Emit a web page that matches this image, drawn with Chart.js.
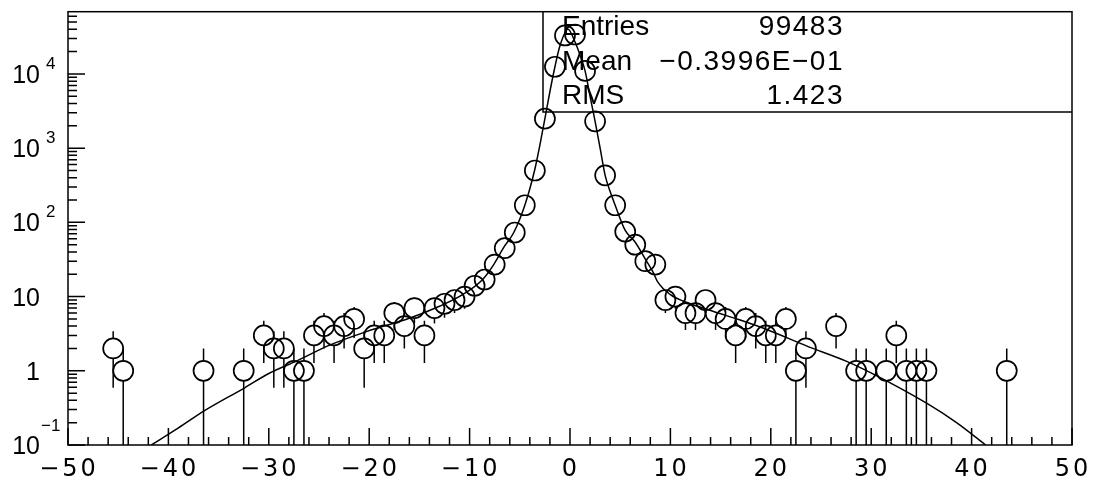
<!DOCTYPE html>
<html>
<head>
<meta charset="utf-8">
<script src="https://cdn.jsdelivr.net/npm/chart.js@4"></script>
<style>
  html, body { margin: 0; padding: 0; background: #fff; }
  #wrap { width: 1095px; height: 481px; }
</style>
</head>
<body>
<div id="wrap"><canvas id="myChart"></canvas></div>
<script>
// histogram bins (centre of each bin) and their contents
const binCenters = [-45.5, -44.5, -36.5, -32.5, -30.5, -29.5, -28.5, -27.5, -26.5, -25.5,
  -24.5, -23.5, -22.5, -21.5, -20.5, -19.5, -18.5, -17.5, -16.5, -15.5,
  -14.5, -13.5, -12.5, -11.5, -10.5, -9.5, -8.5, -7.5, -6.5, -5.5,
  -4.5, -3.5, -2.5, -1.5, -0.5, 0.5, 1.5, 2.5, 3.5, 4.5,
  5.5, 6.5, 7.5, 8.5, 9.5, 10.5, 11.5, 12.5, 13.5, 14.5,
  15.5, 16.5, 17.5, 18.5, 19.5, 20.5, 21.5, 22.5, 23.5, 26.5,
  28.5, 29.5, 31.5, 32.5, 33.5, 34.5, 35.5, 43.5];
const counts = [2, 1, 1, 1, 3, 2, 2, 1, 1, 3,
  4, 3, 4, 5, 2, 3, 3, 6, 4, 7,
  3, 7, 8, 9, 10, 14, 17, 27, 45, 73,
  170, 500, 2500, 12500, 33000, 34000, 11000, 2300, 430, 170,
  75, 50, 30, 27, 9, 10, 6, 6, 9, 6,
  5, 3, 5, 4, 3, 3, 5, 1, 2, 4,
  1, 1, 1, 3, 1, 1, 1, 1];
const countErrors = [1.41, 1, 1, 1, 1.73, 1.41, 1.41, 1, 1, 1.73,
  2, 1.73, 2, 2.24, 1.41, 1.73, 1.73, 2.45, 2, 2.65,
  1.73, 2.65, 2.83, 3, 3.16, 3.74, 4.12, 5.2, 6.7, 8.5,
  13, 22, 50, 112, 182, 184, 105, 48, 21, 13,
  8.7, 7.1, 5.5, 5.2, 3, 3.16, 2.45, 2.45, 3, 2.45,
  2.24, 1.73, 2.24, 2, 1.73, 1.73, 2.24, 1, 1.41, 2,
  1, 1, 1, 1.73, 1, 1, 1, 1];

// fitted curve
const fitX = [-41.7, -39, -36.4, -32.4, -30, -27.2, -24, -20.2, -16, -13,
  -10.7, -8.7, -7.6, -6.6, -5.6, -4.5, -3.5, -3.0, -2.5, -2.0,
  -1.5, -1.0, -0.2, 0.5, 1.0, 1.5, 2.0, 2.5, 3.0, 3.5,
  4.0, 4.5, 5.5, 6.5, 7.5, 8.3, 8.7, 10, 12, 14.3,
  16.8, 19.6, 23.6, 27.5, 30.9, 35.6, 38.5, 41.4];
const fitY = [0.1, 0.17, 0.29, 0.59, 0.92, 1.36, 2.2, 3.4, 5.1, 7.4,
  10.6, 17, 27, 46, 73, 170, 520, 1100, 2500, 5800,
  12500, 24000, 40000, 27000, 18000, 11000, 5000, 2300, 1000, 430,
  260, 170, 78, 54, 32, 21, 16, 10.6, 8, 6.3,
  4.9, 3.6, 2.15, 1.35, 0.81, 0.36, 0.2, 0.1];

// axis labels
const xTickLabels = [-50, -40, -30, -20, -10, 0, 10, 20, 30, 40, 50];
const yTickValues = [0.1, 1, 10, 100, 1000, 10000];
const yTickBase = ['10', '1', '10', '10', '10', '10'];
const yTickSup = ['\u22121', '', '', '2', '3', '4'];

// statistics box
const statNames = ['Entries', 'Mean', 'RMS'];
const statValues = ['99483', '\u22120.3996E\u221201', '1.423'];

const R = 10; // marker radius
const XFONT = '"DejaVu Sans", sans-serif';
const LFONT = '"Liberation Sans", Arial, sans-serif';

const paw = {
  id: 'paw',
  afterDatasetsDraw(chart) {
    const { ctx, chartArea: a, scales: { x, y } } = chart;
    ctx.save();
    ctx.strokeStyle = '#000';
    ctx.fillStyle = '#000';
    ctx.lineWidth = 1.5;

    // error bars, only outside the marker
    ctx.beginPath();
    binCenters.forEach((c, i) => {
      const px = x.getPixelForValue(c);
      const py = y.getPixelForValue(counts[i]);
      const lo = counts[i] - countErrors[i];
      const pyLo = lo > y.min ? y.getPixelForValue(lo) : a.bottom;
      const pyHi = y.getPixelForValue(counts[i] + countErrors[i]);
      if (pyHi < py - R) { ctx.moveTo(px, pyHi); ctx.lineTo(px, py - R); }
      if (pyLo > py + R) { ctx.moveTo(px, py + R); ctx.lineTo(px, pyLo); }
    });
    ctx.stroke();

    // frame
    ctx.strokeRect(a.left, a.top, a.right - a.left, a.bottom - a.top);

    // x ticks (inside)
    ctx.beginPath();
    for (let v = -50; v <= 50; v += 2) {
      const px = x.getPixelForValue(v);
      const len = v % 10 === 0 ? 17 : 8;
      ctx.moveTo(px, a.bottom);
      ctx.lineTo(px, a.bottom - len);
    }
    // y ticks (inside)
    for (let k = -1; k <= 4; k++) {
      for (let m = 1; m <= 9; m++) {
        const v = m * Math.pow(10, k);
        if (v > y.max) break;
        const py = y.getPixelForValue(v);
        const len = m === 1 ? 17 : 9;
        ctx.moveTo(a.left, py);
        ctx.lineTo(a.left + len, py);
      }
    }
    ctx.stroke();

    // x labels
    ctx.font = '24px ' + XFONT;
    ctx.letterSpacing = '3px';
    ctx.textAlign = 'center';
    ctx.textBaseline = 'alphabetic';
    xTickLabels.forEach(v => {
      const txt = v < 0 ? '\u2212' + Math.abs(v) : String(v);
      ctx.fillText(txt, x.getPixelForValue(v) + 1, a.bottom + 31);
    });

    // y labels with exponents
    ctx.letterSpacing = '0px';
    yTickValues.forEach((v, i) => {
      const py = y.getPixelForValue(v);
      ctx.font = '25px ' + LFONT;
      ctx.textAlign = 'right';
      ctx.fillText(yTickBase[i], 40, py + 9);
      if (yTickSup[i]) {
        ctx.font = '17px ' + LFONT;
        ctx.textAlign = 'left';
        const raise = v < 1 ? 14 : 5;
        ctx.fillText(yTickSup[i], v < 1 ? 41 : 46, py - raise);
      }
    });

    // statistics box
    const boxLeft = 543, boxBottom = 112;
    ctx.beginPath();
    ctx.moveTo(boxLeft, a.top);
    ctx.lineTo(boxLeft, boxBottom);
    ctx.lineTo(a.right, boxBottom);
    ctx.stroke();
    ctx.font = '28px ' + LFONT;
    const rows = [35, 70, 104];
    statNames.forEach((s, i) => {
      ctx.letterSpacing = '0px';
      ctx.textAlign = 'left';
      ctx.fillText(s, 562, rows[i]);
      ctx.letterSpacing = '1.5px';
      ctx.textAlign = 'right';
      ctx.fillText(statValues[i], 844, rows[i]);
    });
    ctx.restore();
  }
};

const ctx = document.getElementById('myChart');

const config = {
  type: 'scatter',
  data: {
    datasets: [
      {
        label: 'data',
        data: binCenters.map((c, i) => ({ x: c, y: counts[i] })),
        pointStyle: 'circle',
        pointRadius: R,
        pointHoverRadius: R,
        borderColor: '#000',
        borderWidth: 1.7,
        backgroundColor: 'rgba(0,0,0,0)',
        showLine: false
      },
      {
        type: 'line',
        label: 'fit',
        data: fitX.map((v, i) => ({ x: v, y: fitY[i] })),
        borderColor: '#000',
        borderWidth: 1.5,
        pointRadius: 0,
        cubicInterpolationMode: 'monotone',
        fill: false
      }
    ]
  },
  options: {
    responsive: true,
    maintainAspectRatio: false,
    animation: false,
    layout: { padding: { left: 68, right: 23, top: 8, bottom: 36 } },
    plugins: {
      legend: { display: false },
      tooltip: { enabled: false }
    },
    scales: {
      x: { type: 'linear', min: -50, max: 50, display: false },
      y: { type: 'logarithmic', min: 0.1, max: 69000, display: false }
    }
  },
  plugins: [paw]
};

const myChart = new Chart(ctx, config);
</script>
</body>
</html>
